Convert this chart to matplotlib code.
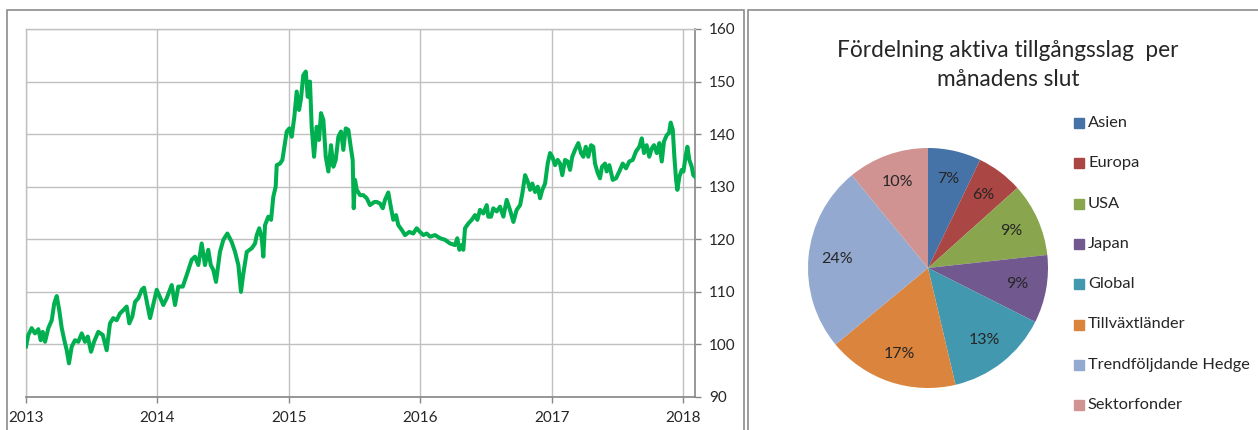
import matplotlib
matplotlib.use("Agg")
import matplotlib.pyplot as plt
from matplotlib.patches import Rectangle

plt.rcParams["font.family"] = ["Lato", "DejaVu Sans"]

# index series, x = years after start of 2013
years_since_2013 = [
    0.000, 0.018, 0.043, 0.068, 0.094, 0.112, 0.127, 0.145, 0.170, 0.196,
    0.215, 0.234, 0.253, 0.272, 0.297, 0.310, 0.327, 0.348, 0.373, 0.398,
    0.424, 0.449, 0.470, 0.495, 0.518, 0.550, 0.584, 0.614, 0.639, 0.664,
    0.690, 0.715, 0.740, 0.766, 0.786, 0.809, 0.830, 0.855, 0.881, 0.898,
    0.944, 0.995, 1.045, 1.071, 1.109, 1.134, 1.159, 1.193, 1.223, 1.261,
    1.286, 1.311, 1.337, 1.362, 1.387, 1.406, 1.425, 1.446, 1.476, 1.502,
    1.532, 1.565, 1.591, 1.616, 1.636, 1.654, 1.680, 1.718, 1.743, 1.756,
    1.775, 1.794, 1.806, 1.819, 1.844, 1.865, 1.882, 1.900, 1.908, 1.933,
    1.951, 1.966, 1.984, 2.004, 2.022, 2.042, 2.060, 2.078, 2.093, 2.110,
    2.129, 2.144, 2.161, 2.174, 2.192, 2.212, 2.230, 2.245, 2.263, 2.281,
    2.301, 2.321, 2.339, 2.357, 2.377, 2.397, 2.415, 2.433, 2.453, 2.471,
    2.486, 2.494, 2.504, 2.517, 2.542, 2.567, 2.593, 2.618, 2.651, 2.669,
    2.694, 2.715, 2.732, 2.757, 2.776, 2.795, 2.816, 2.833, 2.859, 2.884,
    2.917, 2.947, 2.973, 2.998, 3.024, 3.049, 3.075, 3.113, 3.151, 3.189,
    3.227, 3.265, 3.282, 3.298, 3.316, 3.328, 3.341, 3.366, 3.392, 3.417,
    3.435, 3.455, 3.480, 3.506, 3.518, 3.539, 3.556, 3.582, 3.607, 3.633,
    3.658, 3.683, 3.709, 3.734, 3.760, 3.777, 3.798, 3.818, 3.836, 3.853,
    3.874, 3.894, 3.912, 3.929, 3.950, 3.970, 3.988, 4.005, 4.026, 4.046,
    4.064, 4.081, 4.102, 4.122, 4.140, 4.157, 4.178, 4.203, 4.224, 4.241,
    4.260, 4.279, 4.300, 4.317, 4.330, 4.351, 4.368, 4.383, 4.406, 4.419,
    4.439, 4.465, 4.490, 4.515, 4.541, 4.566, 4.591, 4.617, 4.642, 4.667,
    4.686, 4.703, 4.723, 4.743, 4.762, 4.779, 4.800, 4.820, 4.838, 4.855,
    4.876, 4.893, 4.906, 4.922, 4.934, 4.947, 4.957, 4.972, 4.990, 5.003,
    5.021, 5.033, 5.048, 5.066, 5.078, 5.091,
]
index_values = [
    99.6, 101.8, 103.1, 102.1, 102.9, 100.8, 102.4, 100.5, 103.1, 104.6,
    107.8, 109.2, 106.5, 103.1, 100.2, 98.9, 96.4, 99.6, 100.8, 100.5,
    102.1, 100.5, 101.5, 98.6, 100.5, 102.4, 101.8, 98.9, 104.0, 105.0,
    104.6, 105.9, 106.5, 107.2, 104.0, 105.3, 108.1, 108.8, 110.4, 110.8,
    105.0, 110.4, 107.5, 108.8, 111.3, 107.5, 111.0, 111.0, 113.2, 116.1,
    116.7, 115.1, 119.2, 115.1, 118.0, 115.1, 114.2, 111.9, 117.6, 119.9,
    121.1, 119.5, 117.6, 115.1, 110.0, 113.5, 117.6, 118.3, 119.2, 120.8,
    122.1, 120.2, 116.7, 122.7, 124.3, 123.7, 128.1, 130.0, 134.1, 134.4,
    135.1, 137.6, 140.5, 141.1, 139.5, 143.3, 148.1, 144.6, 146.8, 151.2,
    151.9, 147.1, 150.0, 141.4, 135.7, 141.4, 138.9, 144.0, 142.7, 135.7,
    132.9, 137.9, 133.8, 135.1, 139.5, 140.5, 137.0, 141.1, 140.8, 137.6,
    135.1, 125.9, 131.3, 129.4, 128.4, 128.4, 127.8, 126.5, 127.1, 127.1,
    126.8, 125.9, 127.5, 128.9, 126.2, 123.7, 124.6, 122.7, 121.8, 120.8,
    121.4, 121.1, 122.1, 121.4, 120.8, 121.1, 120.5, 120.8, 120.2, 119.9,
    119.2, 118.9, 120.2, 118.0, 118.9, 118.0, 122.1, 123.0, 123.7, 124.6,
    123.7, 125.6, 124.9, 126.5, 124.3, 124.3, 125.9, 125.3, 126.2, 124.3,
    127.5, 125.6, 123.3, 125.6, 126.5, 128.7, 132.2, 131.0, 129.4, 130.6,
    129.0, 130.0, 127.8, 129.4, 130.6, 134.4, 136.4, 135.7, 134.1, 135.1,
    134.4, 132.2, 135.1, 134.8, 133.2, 135.7, 137.0, 138.3, 136.4, 135.7,
    137.6, 135.7, 137.9, 137.6, 134.4, 132.6, 131.6, 133.8, 134.4, 132.9,
    134.1, 131.3, 131.6, 132.9, 134.4, 133.5, 134.8, 135.1, 136.7, 137.6,
    139.2, 136.4, 137.9, 135.7, 137.3, 137.9, 136.4, 138.3, 134.8, 138.6,
    139.8, 140.2, 142.2, 140.8, 135.7, 131.3, 129.4, 131.9, 133.2, 132.9,
    136.0, 137.6, 135.1, 133.8, 132.2, 131.9,
]
year_ticks = [2013, 2014, 2015, 2016, 2017, 2018]
value_ticks = [90, 100, 110, 120, 130, 140, 150, 160]

# pie data
asset_classes = ["Asien", "Europa", "USA", "Japan", "Global", "Tillväxtländer",
                 "Trendföljdande Hedge", "Sektorfonder"]
asset_shares = [6.8, 5.9, 9.4, 8.7, 13.2, 16.8, 23.8, 10.4]
asset_colors = ["#4572A7", "#AA4643", "#89A54E", "#71588F", "#4198AF",
                "#DB843D", "#93A9CF", "#D19392"]
pie_title = "Fördelning aktiva tillgångsslag  per\nmånadens slut"

W, H = 1258, 430
TXT = "#262626"
fig = plt.figure(figsize=(W / 100, H / 100), dpi=100)


def fx(px):
    return px / W


def fy(py):
    return 1 - py / H


# panel frames
fig.add_artist(Rectangle((fx(7), fy(440)), fx(744) - fx(7), fy(10) - fy(440),
                         transform=fig.transFigure, fill=False,
                         edgecolor="#8C8C8C", lw=1.2))
fig.add_artist(Rectangle((fx(748), fy(440)), fx(1270) - fx(748), fy(10) - fy(440),
                         transform=fig.transFigure, fill=False,
                         edgecolor="#8C8C8C", lw=1.2))

# line chart
ax = fig.add_axes([fx(26), fy(397), fx(695) - fx(26), fy(29) - fy(397)])
x = [2013 + t for t in years_since_2013]
ax.plot(x, index_values, color="#00B050", lw=2.9, solid_joinstyle="round", zorder=3)
ax.set_xlim(2013, 2013 + 5.091)
ax.set_ylim(90, 160)
ax.set_xticks(year_ticks)
ax.set_xticklabels([str(y) for y in year_ticks])
ax.set_yticks(value_ticks)
ax.yaxis.tick_right()
ax.grid(True, color="#C0C0C0", lw=1.0, zorder=0)
ax.set_axisbelow(True)
for side in ("top", "left"):
    ax.spines[side].set_color("#C0C0C0")
    ax.spines[side].set_linewidth(1.0)
for side in ("bottom", "right"):
    ax.spines[side].set_color("#868686")
    ax.spines[side].set_linewidth(1.2)
ax.tick_params(axis="both", direction="out", length=4, width=1.0,
               color="#868686", labelsize=11, labelcolor=TXT, pad=6)

# pie chart
pax = fig.add_axes([fx(808), fy(388), fx(1048) - fx(808), fy(148) - fy(388)])
total = sum(asset_shares)
wedges, _, autotexts = pax.pie(
    asset_shares, colors=asset_colors, startangle=90, counterclock=False,
    autopct=lambda p: f"{p * total / 100:.0f}%", pctdistance=0.76,
    wedgeprops=dict(linewidth=0), textprops=dict(color=TXT, fontsize=11.5))
pax.set_xlim(-1, 1)
pax.set_ylim(-1, 1)

fig.text(fx(1008), fy(65), pie_title, ha="center", va="center",
         fontsize=16.3, color=TXT, linespacing=1.45)

# legend
for i, (name, col) in enumerate(zip(asset_classes, asset_colors)):
    yc = 123 + 40.3 * i
    fig.add_artist(Rectangle((fx(1074), fy(yc + 5)), fx(10), 10 / H,
                             transform=fig.transFigure, color=col))
    fig.text(fx(1088), fy(yc), name, ha="left", va="center",
             fontsize=11.8, color=TXT)

fig.savefig("out.png", dpi=100)
